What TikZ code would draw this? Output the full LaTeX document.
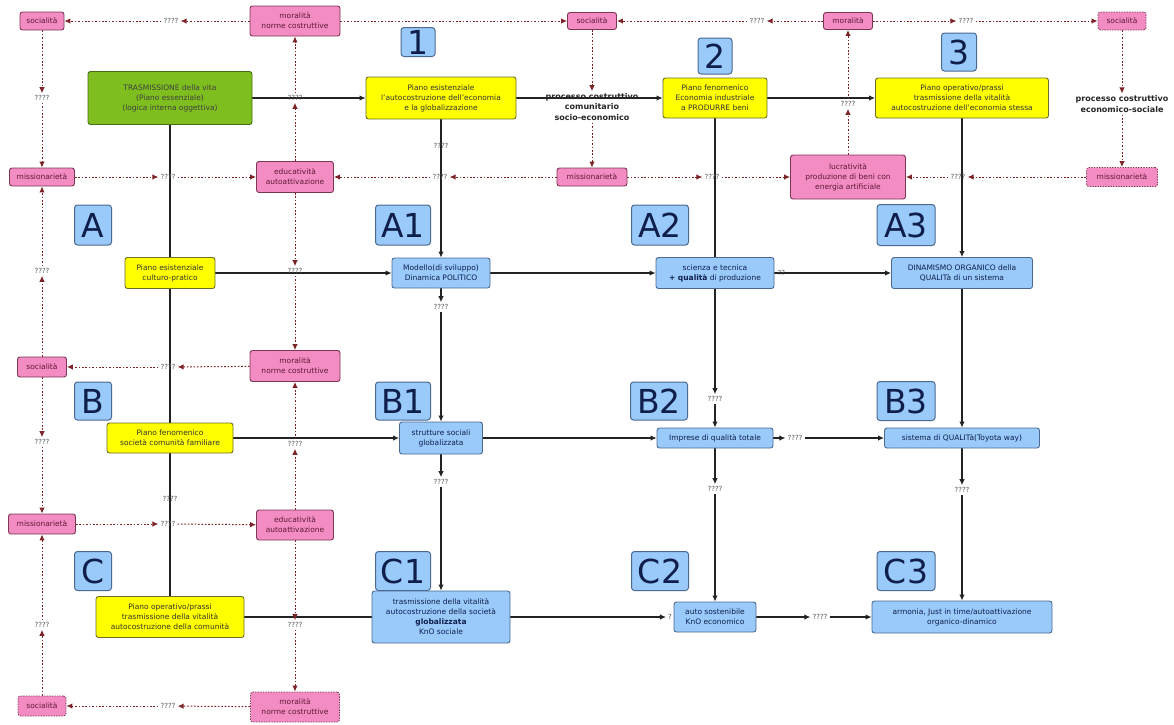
\documentclass[tikz,border=0pt]{standalone}
\usepackage{fontspec}
\setmainfont{DejaVu Sans}
\usetikzlibrary{arrows.meta,backgrounds}

\definecolor{pinkfill}{RGB}{243,140,194}
\definecolor{pinkline}{RGB}{125,55,85}
\definecolor{pinktext}{RGB}{95,25,55}
\definecolor{yelfill}{RGB}{255,255,0}
\definecolor{yelline}{RGB}{110,110,40}
\definecolor{bluefill}{RGB}{153,202,250}
\definecolor{blueline}{RGB}{75,105,145}
\definecolor{bluetext}{RGB}{15,30,75}
\definecolor{greenfill}{RGB}{126,190,30}
\definecolor{greenline}{RGB}{70,110,20}
\definecolor{linkred}{RGB}{125,35,40}
\definecolor{linkgray}{RGB}{35,35,35}

\tikzset{
  sz/.style 2 args={minimum width=#1, minimum height=#2},
  box/.style={rounded corners=2.5pt, line width=0.9pt, align=center, inner sep=1pt,
    font=\fontsize{7.5}{10}\selectfont},
  pinkbox/.style={box, fill=pinkfill, draw=pinkline, text=pinktext},
  pinkdots/.style={pinkbox, dash pattern=on 1.3pt off 1.3pt},
  yelbox/.style={box, fill=yelfill, draw=yelline, text=black!80},
  bluebox/.style={box, fill=bluefill, draw=blueline, text=bluetext},
  greenbox/.style={box, fill=greenfill, draw=greenline, text=black!75},
  tag/.style={rounded corners=3pt, fill=bluefill, draw=blueline, line width=1pt,
    text=bluetext, font=\fontsize{33}{33}\selectfont, inner sep=0pt},
  qq/.style={font=\fontsize{7}{7}\selectfont, text=black!65, inner sep=2pt},
  proc/.style={font=\fontsize{8}{10.5}\selectfont\bfseries, align=center, inner sep=2pt, text=black!85},
  flow/.style={draw=linkgray, line width=1.1pt, -{Latex[length=6pt,width=5.5pt]}},
  flowplain/.style={draw=linkgray, line width=1.1pt},
  link/.style={draw=linkred, line width=1pt, dash pattern=on 1.6pt off 1.8pt,
    -{Latex[length=6pt,width=5.5pt]}},
}

\begin{document}
\begin{tikzpicture}[x=1pt,y=-1pt]
\path[use as bounding box] (0,0) rectangle (1174,724);

% ---------- pink value boxes ----------
\node[pinkbox, sz={44}{18}] (soc1) at (42,21) {socialità};
\node[pinkbox, sz={90}{30}] (mor1) at (295,21) {moralità\\norme costruttive};
\node[pinkbox, sz={49}{17}] (soc2) at (592,21) {socialità};
\node[pinkbox, sz={49}{17}] (mor2) at (848,21) {moralità};
\node[pinkdots, sz={48}{18}] (soc3) at (1122,21) {socialità};

\node[pinkbox, sz={65}{18}] (miss1) at (42,177) {missionarietà};
\node[pinkbox, sz={77}{31}] (edu1) at (295,177) {educatività\\autoattivazione};
\node[pinkbox, sz={70}{18}] (miss2) at (592,177) {missionarietà};
\node[pinkbox, sz={115}{44}] (lucr) at (848,177) {lucratività\\produzione di beni con\\energia artificiale};
\node[pinkdots, sz={71}{19}] (miss3) at (1122,177) {missionarietà};

\node[pinkbox, sz={49}{20}] (socB) at (42,367) {socialità};
\node[pinkbox, sz={90}{31}] (morB) at (295,366) {moralità\\norme costruttive};
\node[pinkbox, sz={67}{20}] (missC) at (42,524) {missionarietà};
\node[pinkbox, sz={77}{30}] (eduC) at (295,525) {educatività\\autoattivazione};
\node[pinkdots, sz={48}{20}] (socbot) at (42,706) {socialità};
\node[pinkdots, sz={89}{30}] (morbot) at (295,707) {moralità\\norme costruttive};

% ---------- top row ----------
\node[greenbox, sz={164}{53}] (green) at (170,98) {TRASMISSIONE della vita\\(Piano essenziale)\\(logica interna oggettiva)};
\node[yelbox, sz={150}{42}] (tr1) at (441,98) {Piano esistenziale\\l'autocostruzione dell'economia\\e la globalizzazione};
\node[yelbox, sz={104}{40}] (tr2) at (715,98) {Piano fenomenico\\Economia industriale\\a PRODURRE beni};
\node[yelbox, sz={173}{40}] (tr3) at (962,98) {Piano operativo/prassi\\trasmissione della vitalità\\autocostruzione dell'economia stessa};

\node[proc] (proc1) at (592,107) {processo costruttivo\\comunitario\\socio-economico};
\node[proc] (proc2) at (1122,104) {processo costruttivo\\economico-sociale};

% ---------- column and row tags ----------
\node[tag, sz={34}{29}] (t1) at (418,42) {1};
\node[tag, sz={34}{36}] (t2) at (715,56) {2};
\node[tag, sz={35}{38}] (t3) at (959,52) {3};
\node[tag, sz={37}{40}] (tA) at (93,225) {A};
\node[tag, sz={55}{40}] (tA1) at (403,225) {A1};
\node[tag, sz={57}{40}] (tA2) at (660,225) {A2};
\node[tag, sz={58}{41}] (tA3) at (906,225) {A3};
\node[tag, sz={37}{38}] (tB) at (93,401) {B};
\node[tag, sz={55}{38}] (tB1) at (403,401) {B1};
\node[tag, sz={57}{38}] (tB2) at (659,401) {B2};
\node[tag, sz={58}{39}] (tB3) at (906,401) {B3};
\node[tag, sz={37}{39}] (tC) at (93,571) {C};
\node[tag, sz={55}{39}] (tC1) at (403,571) {C1};
\node[tag, sz={57}{39}] (tC2) at (660,571) {C2};
\node[tag, sz={58}{39}] (tC3) at (906,571) {C3};

% ---------- row A ----------
\node[yelbox, sz={90}{31}] (yA) at (170,273) {Piano esistenziale\\culturo-pratico};
\node[bluebox, sz={98}{30}] (modl) at (441,273) {Modello(di sviluppo)\\Dinamica POLITICO};
\node[bluebox, sz={118}{31}] (scien) at (715,273) {scienza e tecnica\\\textbf{+ qualità} di produzione};
\node[bluebox, sz={141}{31}] (dinam) at (962,273) {DINAMISMO ORGANICO della\\QUALITà di un sistema};

% ---------- row B ----------
\node[yelbox, sz={126}{30}] (yB) at (170,438) {Piano fenomenico\\società comunità familiare};
\node[bluebox, sz={83}{32}] (strut) at (441,438) {strutture sociali\\globalizzata};
\node[bluebox, sz={116}{20}] (impr) at (715,438) {Imprese di qualità totale};
\node[bluebox, sz={155}{20}] (sist) at (962,438) {sistema di QUALITà(Toyota way)};

% ---------- row C ----------
\node[yelbox, sz={148}{41}] (yC) at (170,617) {Piano operativo/prassi\\trasmissione della vitalità\\autocostruzione della comunità};
\node[bluebox, sz={138}{52}] (c1) at (441,617) {trasmissione della vitalità\\autocostruzione della società\\\textbf{globalizzata}\\KnO sociale};
\node[bluebox, sz={82}{30}] (c2) at (715,617) {auto sostenibile\\KnO economico};
\node[bluebox, sz={180}{32}] (c3) at (962,617) {armonia, Just in time/autoattivazione\\organico-dinamico};

% ---------- question labels between links ----------
\node[qq] (qT1) at (171,21) {????};
\node[qq] (qT2) at (757,21) {????};
\node[qq] (qT3) at (966,21) {????};
\node[qq] (qL1) at (42,98) {????};
\node[qq] (qM1) at (295,98) {????};
\node[qq] (qR1) at (848,104) {????};
\node[qq] (qL2) at (42,271) {????};
\node[qq] (qM2) at (295,271) {????};
\node[qq] (qL3) at (42,442) {????};
\node[qq] (qM3) at (295,444) {????};
\node[qq] (qL4) at (42,625) {????};
\node[qq] (qM4) at (295,625) {????};
\node[qq] (qH1) at (168,177) {????};
\node[qq] (qH2) at (440,177) {????};
\node[qq] (qH3) at (712,177) {????};
\node[qq] (qH4) at (958,177) {????};
\node[qq] (qH5) at (168,367) {????};
\node[qq] (qH6) at (168,524) {????};
\node[qq] (qH7) at (168,706) {????};
\node[qq] (qS1) at (441,307) {????};
\node[qq] (qS2) at (715,399) {????};
\node[qq] (qS3) at (795,438) {????};
\node[qq] (qS4) at (441,482) {????};
\node[qq] (qS5) at (715,489) {????};
\node[qq] (qS6) at (962,490) {????};
\node[qq] (qS7) at (670,617) {?};
\node[qq] (qS8) at (820,617) {????};

% ---------- connectors, behind the boxes ----------
\begin{scope}[on background layer]
\fill[white] (0,0) rectangle (1174,724);

% main flow
\draw[flow] (green) -- (tr1);
\draw[flow] (tr1) -- (tr2);
\draw[flow] (tr2) -- (tr3);
\draw[flowplain] (green) -- (yA);
\draw[flowplain] (yA) -- (yB);
\draw[flowplain] (yB) -- node[qq, pos=0.32] (qV1) {????} (yC);
\draw[flow] (tr1) -- node[qq, pos=0.19] (qV2) {????} (modl);
\draw[flow] (tr2) -- (qS2);
\draw[flow] (qS2) -- (impr);
\draw[flow] (tr3) -- (dinam);
\draw[flow] (yA) -- (modl);
\draw[flow] (modl) -- (scien);
\draw[flow] (scien) -- node[qq, pos=0.06] (qV3) {??} (dinam);
\draw[flow] (modl) -- (qS1);
\draw[flow] (qS1) -- (strut);
\draw[flow] (dinam) -- (sist);
\draw[flow] (yB) -- (strut);
\draw[flow] (strut) -- (impr);
\draw[flow] (impr) -- (qS3);
\draw[flow] (qS3) -- (sist);
\draw[flow] (strut) -- (qS4);
\draw[flow] (qS4) -- (c1);
\draw[flow] (impr) -- (qS5);
\draw[flow] (qS5) -- (c2);
\draw[flow] (sist) -- (qS6);
\draw[flow] (qS6) -- (c3);
\draw[flowplain] (yC) -- (c1);
\draw[flow] (c1) -- (qS7);
\draw[flow] (qS7) -- (c2);
\draw[flow] (c2) -- (qS8);
\draw[flow] (qS8) -- (c3);

% value links
\draw[link] (mor1) -- (qT1);   \draw[link] (qT1) -- (soc1);
\draw[link] (mor1) -- (soc2);
\draw[link] (mor2) -- (qT2);   \draw[link] (qT2) -- (soc2);
\draw[link] (mor2) -- (qT3);   \draw[link] (qT3) -- (soc3);
\draw[link] (soc1) -- (qL1);   \draw[link] (qL1) -- (miss1);
\draw[link] (edu1) -- (qM1);   \draw[link] (qM1) -- (mor1);
\draw[link] (lucr) -- (qR1);   \draw[link] (qR1) -- (mor2);
\draw[link] (socB) -- (qL2);   \draw[link] (qL2) -- (miss1);
\draw[link] (edu1) -- (qM2);   \draw[link] (qM2) -- (morB);
\draw[link] (socB) -- (qL3);   \draw[link] (qL3) -- (missC);
\draw[link] (eduC) -- (qM3);   \draw[link] (qM3) -- (morB);
\draw[link] (socbot) -- (qL4); \draw[link] (qL4) -- (missC);
\draw[link] (eduC) -- (qM4);   \draw[link] (qM4) -- (morbot);
\draw[link] (soc2) -- (proc1); \draw[link] (proc1) -- (miss2);
\draw[link] (soc3) -- (proc2); \draw[link] (proc2) -- (miss3);
\draw[link] (miss1) -- (qH1);  \draw[link] (qH1) -- (edu1);
\draw[link] (miss2) -- (qH2);  \draw[link] (qH2) -- (edu1);
\draw[link] (miss2) -- (qH3);  \draw[link] (qH3) -- (lucr);
\draw[link] (miss3) -- (qH4);  \draw[link] (qH4) -- (lucr);
\draw[link] (morB) -- (qH5);   \draw[link] (qH5) -- (socB);
\draw[link] (missC) -- (qH6);  \draw[link] (qH6) -- (eduC);
\draw[link] (morbot) -- (qH7); \draw[link] (qH7) -- (socbot);
\end{scope}
\end{tikzpicture}
\end{document}
